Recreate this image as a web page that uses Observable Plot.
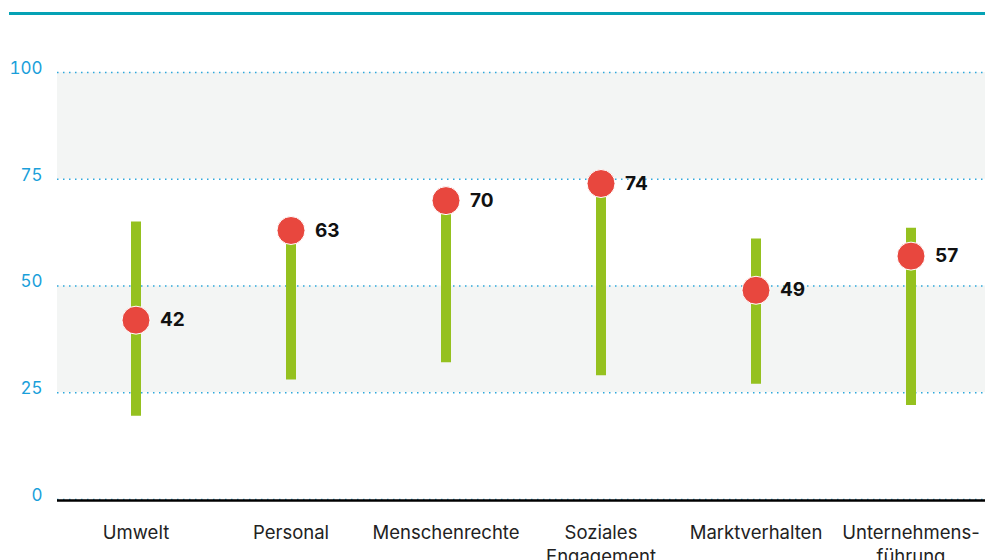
<!DOCTYPE html>
<html>
<head>
<meta charset="utf-8">
<script src="https://cdn.jsdelivr.net/npm/d3@7"></script>
<script src="https://cdn.jsdelivr.net/npm/@observablehq/plot@0.6"></script>
<style>
  html, body { margin: 0; padding: 0; background: #fff; }
  #wrap { position: relative; width: 985px; height: 560px; overflow: hidden; }
  #topline { position: absolute; left: 9px; right: 0; top: 12px; height: 3px; background: #05a2b5; }
  #chart { position: absolute; left: 0; top: 0; }
</style>
</head>
<body>
<div id="wrap">
  <div id="chart"></div>
  <div id="topline"></div>
</div>
<script>
const categories = ["Umwelt", "Personal", "Menschenrechte", "Soziales\nEngagement", "Marktverhalten", "Unternehmens-\nführung"];
const values = [42, 63, 70, 74, 49, 57];
const lows = [19.5, 28, 32, 29, 27, 22];
const highs = [65, 63, 70, 74, 61, 63.5];
const yTicks = [0, 25, 50, 75, 100];
const bandLows = [25, 75];
const bandHighs = [50, 100];

const data = categories.map((c, i) => ({cat: c, value: values[i], low: lows[i], high: highs[i]}));
const bands = bandLows.map((lo, i) => ({lo, hi: bandHighs[i]}));

const font = "Inter, 'Noto Sans', sans-serif";

const chart = Plot.plot({
  width: 985,
  height: 560,
  marginTop: 72,
  marginBottom: 61,
  marginLeft: 57,
  marginRight: 0,
  style: {fontFamily: font, background: "transparent"},
  x: {type: "band", domain: categories, range: [57, 989], padding: 0},
  y: {domain: [0, 100]},
  marks: [
    Plot.rect(bands, {y1: "lo", y2: "hi", fill: "#f3f5f4"}),
    Plot.ruleY(yTicks, {stroke: "#2ea8dc", strokeWidth: 1.5, strokeDasharray: "1.5,4.5"}),
    Plot.ruleY([0], {stroke: "#000", strokeWidth: 2.5, dy: 1}),
    Plot.axisY(yTicks, {tickSize: 0, tickPadding: 15, fontSize: 17, fill: "#1a9fda", dy: -4, label: null}),
    Plot.axisX({tickSize: 0, tickPadding: 22, fontSize: 18.5, fill: "#222", lineHeight: 1.3, label: null}),
    Plot.ruleX(data, {x: "cat", y1: "low", y2: "high", stroke: "#95c11f", strokeWidth: 10}),
    Plot.dot(data, {x: "cat", y: "value", r: 14, fill: "#e8473e", stroke: "#fff", strokeWidth: 1}),
    Plot.text(data, {x: "cat", y: "value", text: d => String(d.value), dx: 24, textAnchor: "start", fontWeight: "bold", fontSize: 19, fill: "#111"})
  ]
});
document.getElementById("chart").appendChild(chart);
</script>
</body>
</html>
